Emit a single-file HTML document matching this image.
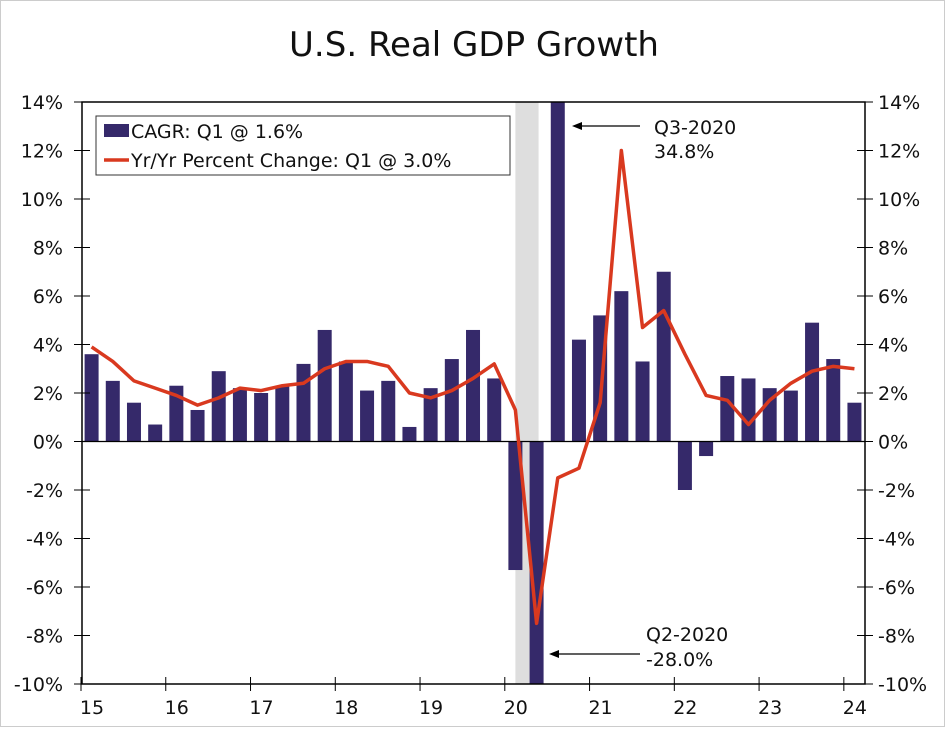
<!DOCTYPE html>
<html><head><meta charset="utf-8"><style>
body{margin:0;background:#fff;}
svg text{font-family:"DejaVu Sans","Liberation Sans",sans-serif;fill:#111;}
</style></head><body>
<svg id="c" width="947" height="727" xmlns="http://www.w3.org/2000/svg">
<rect x="0.5" y="0.5" width="944" height="726" fill="#fff" stroke="#ccc"/>
<text x="474" y="56" font-size="34" text-anchor="middle">U.S. Real GDP Growth</text>
<g id="g"></g>
</svg>
<script>
const years=['15','16','17','18','19','20','21','22','23','24'];
const yTicks=[14,12,10,8,6,4,2,0,-2,-4,-6,-8,-10];
const cagr=[3.6,2.5,1.6,0.7,2.3,1.3,2.9,2.2,2.0,2.3,3.2,4.6,3.3,2.1,2.5,0.6,2.2,3.4,4.6,2.6,-5.3,-28.0,34.8,4.2,5.2,6.2,3.3,7.0,-2.0,-0.6,2.7,2.6,2.2,2.1,4.9,3.4,1.6];
const yoy=[3.9,3.3,2.5,2.2,1.9,1.5,1.8,2.2,2.1,2.3,2.4,3.0,3.3,3.3,3.1,2.0,1.8,2.1,2.6,3.2,1.3,-7.5,-1.5,-1.1,1.6,12.0,4.7,5.4,3.6,1.9,1.7,0.7,1.7,2.4,2.9,3.1,3.0];
const recession=[20,21];
const NS='http://www.w3.org/2000/svg';
const g=document.getElementById('g');
const L=82,R=865,T=102,B=684,yMin=-10,yMax=14,x0=81,qw=21.19;
const y=v=>B-(v-yMin)/(yMax-yMin)*(B-T);
const xq=i=>x0+(i+0.5)*qw;
const xy=i=>x0+i*qw*4;
const clamp=v=>Math.max(yMin,Math.min(yMax,v));
function el(t,a,txt){const e=document.createElementNS(NS,t);for(const k in a)e.setAttribute(k,a[k]);if(txt!==undefined)e.textContent=txt;g.appendChild(e);return e;}
let e;
e=el('rect',{x:xq(recession[0]),y:T,width:(recession[1]-recession[0])*qw+2,height:B-T,fill:'#dedede'});


cagr.forEach((v,i)=>{const a=y(0),b=y(clamp(v));
e=el('rect',{x:xq(i)-7,y:Math.min(a,b),width:14,height:Math.abs(b-a),fill:'#35296a'});

});
e=el('line',{x1:L,x2:R,y1:y(0),y2:y(0),stroke:'#000','stroke-width':1.2});


e=el('polyline',{points:yoy.map((v,i)=>xq(i)+','+y(v)).join(' '),fill:'none',stroke:'#d9391f','stroke-width':3.5,'stroke-linejoin':'round'});


e=el('path',{d:`M${L} ${T}H${R}V${B}H${L}Z`,fill:'none',stroke:'#000','stroke-width':1.5});


yTicks.forEach(v=>{const yy=y(v);
el('line',{x1:L-8,x2:L+8,y1:yy,y2:yy,stroke:'#000'});el('line',{x1:R-8,x2:R+8,y1:yy,y2:yy,stroke:'#000'});
e=el('text',{x:L-19,y:yy+7,'font-size':19,'text-anchor':'end'},v+'%');


e=el('text',{x:R+13,y:yy+7,'font-size':19},v+'%');

});
years.forEach((t,i)=>{const xx=xy(i);
el('line',{x1:xx,x2:xx,y1:B-7,y2:B+7,stroke:'#000'});
e=el('text',{x:xx+11,y:B+30,'font-size':19,'text-anchor':'middle'},t);

});
// legend
e=el('rect',{x:96,y:116,width:414,height:59,fill:'#fff',stroke:'#333','stroke-width':1});


el('rect',{x:104,y:124,width:25,height:13,fill:'#35296a'});
e=el('text',{x:131,y:138,'font-size':19},'CAGR: Q1 @ 1.6%');


el('line',{x1:104,x2:129,y1:160,y2:160,stroke:'#d9391f','stroke-width':3.5});
e=el('text',{x:131,y:167,'font-size':19},'Yr/Yr Percent Change: Q1 @ 3.0%');


// annotations
function arrow(x1,x2,yy,name){e=el('line',{x1:x1,x2:x2+8,y1:yy,y2:yy,stroke:'#000','stroke-width':1.2});


el('path',{d:`M${x2} ${yy}l10 -4v8z`,fill:'#000'});}
arrow(640,572,126,'q3-2020-arrow');
e=el('text',{x:654,y:134,'font-size':19},'Q3-2020');


el('text',{x:654,y:158,'font-size':19},'34.8%');
arrow(640,549,654,'q2-2020-arrow');
e=el('text',{x:646,y:641,'font-size':19},'Q2-2020');


el('text',{x:646,y:666,'font-size':19},'-28.0%');
</script>
</body></html>
